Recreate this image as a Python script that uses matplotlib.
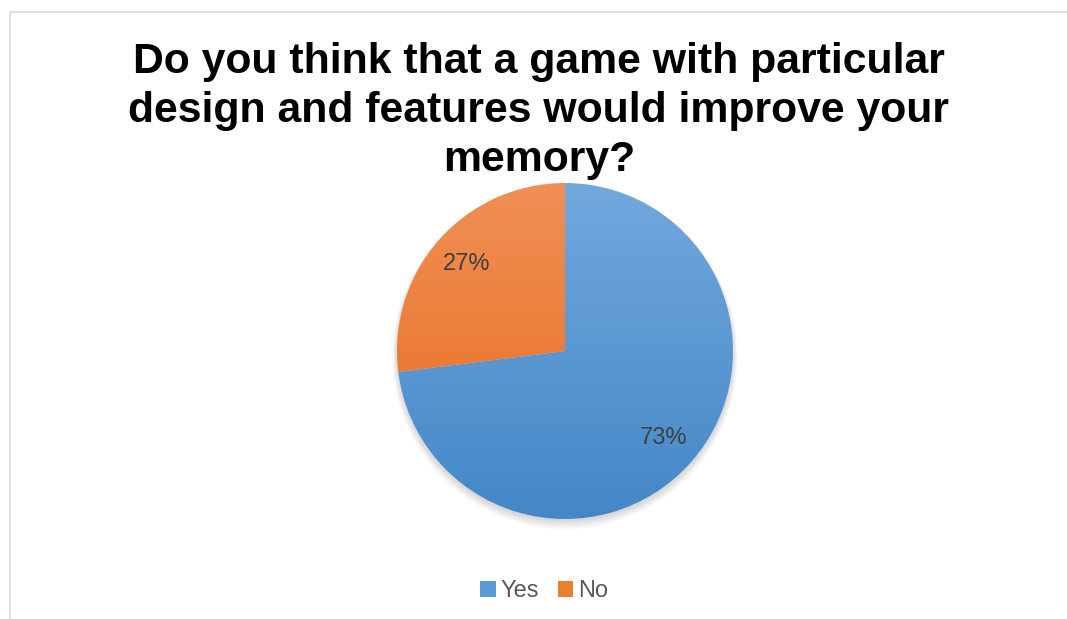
import numpy as np
import matplotlib
matplotlib.use('Agg')
import matplotlib.pyplot as plt
from matplotlib.colors import LinearSegmentedColormap
from matplotlib.patches import Rectangle, Patch, Circle

plt.rcParams['font.family'] = ['Liberation Sans', 'DejaVu Sans']

title = "Do you think that a game with particular\ndesign and features would improve your\nmemory?"
labels = ['Yes', 'No']
shares = [73, 27]
# top / bottom colours of each slice's vertical gradient
grad_top = ['#72a8de', '#f18f56']
grad_bottom = ['#4487c7', '#e76b1b']
legend_colors = ['#5b9bd5', '#ed7d31']

W, H = 1067, 619
fig = plt.figure(figsize=(W / 100, H / 100), dpi=100)
fig.patch.set_facecolor('white')

# light chart-area border running off the right and bottom edges
fig.patches.append(Rectangle((10 / W, -0.1), 1.2, 1.1 - 12 / H,
                             transform=fig.transFigure, fill=False,
                             edgecolor='#d9d9d9', linewidth=1.2))

fig.text(539 / W, 1 - 111 / H, title, ha='center', va='center',
         fontsize=30.8, fontweight='bold', color='black', linespacing=1.3)

cx, cy, r = 565, H - 351, 168
ax = fig.add_axes([(cx - r) / W, (cy - r) / H, 2 * r / W, 2 * r / H])
ax.set_xlim(-1, 1)
ax.set_ylim(-1, 1)
ax.set_aspect('equal')
ax.axis('off')

# soft shadow under the pie
for i in range(8):
    ax.add_patch(Circle((0.0, -0.012 - i * 0.003), 1.0 + i * 0.004,
                        facecolor='black', alpha=0.018, edgecolor='none',
                        zorder=0, clip_on=False))

wedges, texts, autotexts = ax.pie(
    shares, startangle=90, counterclock=False, radius=1.0,
    autopct='%1.0f%%', pctdistance=0.78,
    wedgeprops=dict(edgecolor='none', linewidth=0),
    textprops=dict(fontsize=17, color='#404040'))

ramp = np.linspace(1, 0, 256).reshape(-1, 1)
for w, top, bot in zip(wedges, grad_top, grad_bottom):
    w.set_facecolor('none')
    cmap = LinearSegmentedColormap.from_list('g', [bot, top])
    im = ax.imshow(ramp, cmap=cmap, extent=(-1, 1, -1, 1),
                   aspect='auto', zorder=1, interpolation='bilinear')
    im.set_clip_path(w)

for t in autotexts:
    t.set_zorder(3)
ax.set_xlim(-1, 1)
ax.set_ylim(-1, 1)

handles = [Patch(facecolor=c, edgecolor='none') for c in legend_colors]
fig.legend(handles, labels, loc='center', ncol=2,
           bbox_to_anchor=(544 / W, 1 - 591 / H), frameon=False,
           fontsize=17, labelcolor='#595959', handlelength=0.65,
           handleheight=0.65, handletextpad=0.2, columnspacing=0.8)

fig.savefig('out.png', dpi=100)
